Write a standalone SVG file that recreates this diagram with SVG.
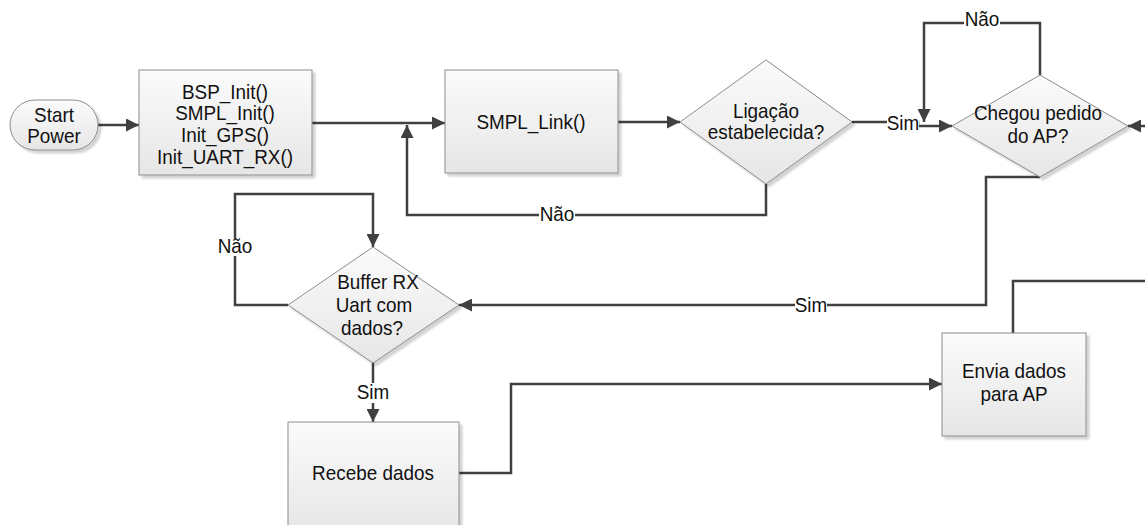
<svg xmlns="http://www.w3.org/2000/svg" width="1145" height="525" viewBox="0 0 1145 525">
  <style>
    .shape { fill: url(#boxFill); stroke: #8c8c8c; stroke-width: 1; filter: url(#shadow); }
    .txt { font-family: "Liberation Sans", Arial, sans-serif; font-size: 21px; fill: #111; text-anchor: middle;
           transform-box: fill-box; transform-origin: center; transform: scaleX(0.9); }
    .wire { fill: none; stroke: #404040; stroke-width: 2.5; }
    .arrow { marker-end: url(#head); }
    .lblbg { fill: #ffffff; }
  </style>
  <defs>
    <linearGradient id="boxFill" x1="0" y1="0" x2="0" y2="1">
      <stop offset="0" stop-color="#fbfbfb"/>
      <stop offset="1" stop-color="#e6e6e6"/>
    </linearGradient>
    <filter id="shadow" x="-10%" y="-10%" width="130%" height="130%">
      <feGaussianBlur in="SourceAlpha" stdDeviation="1.2"/>
      <feOffset dx="3" dy="3" result="off"/>
      <feComponentTransfer><feFuncA type="linear" slope="0.18"/></feComponentTransfer>
      <feMerge><feMergeNode/><feMergeNode in="SourceGraphic"/></feMerge>
    </filter>
    <marker id="head" viewBox="0 0 12 12" refX="12" refY="6" markerWidth="5.2" markerHeight="5.2" orient="auto" markerUnits="strokeWidth">
      <path d="M0,0 L12,6 L0,12 Z" fill="#404040"/>
    </marker>
  </defs>

  <!-- connectors -->
  <g id="connectors">
    <path class="wire arrow" d="M98,125 H139"/>
    <path class="wire arrow" d="M312,123 H445"/>
    <path class="wire arrow" d="M766,184 V215 H407 V125"/>
    <path class="wire arrow" d="M618,122 H680"/>
    <path class="wire arrow" d="M852,122 H918 V126 H952"/>
    <path class="wire arrow" d="M1040,75 V23 H924 V122"/>
    <path class="wire arrow" d="M1145,126 H1128"/>
    <path class="wire arrow" d="M1040,177 H986 V305 H459"/>
    <path class="wire arrow" d="M288,305 H235 V194 H373 V247"/>
    <path class="wire arrow" d="M373,363 V422"/>
    <path class="wire arrow" d="M459,473 H511 V384 H942"/>
    <path class="wire" d="M1013,333 V281 H1145"/>

    <!-- connector labels -->
    <rect class="lblbg" x="539" y="206" width="36" height="18"/>
    <text class="txt" x="557" y="221">Não</text>
    <rect class="lblbg" x="887" y="114" width="32" height="18"/>
    <text class="txt" x="903" y="130">Sim</text>
    <rect class="lblbg" x="964" y="10" width="36" height="18"/>
    <text class="txt" x="982" y="26">Não</text>
    <rect class="lblbg" x="795" y="296" width="32" height="18"/>
    <text class="txt" x="811" y="312">Sim</text>
    <rect class="lblbg" x="217" y="238" width="36" height="18"/>
    <text class="txt" x="235" y="253">Não</text>
    <rect class="lblbg" x="357" y="383" width="32" height="20"/>
    <text class="txt" x="373" y="399">Sim</text>
  </g>

  <g id="start">
    <rect class="shape" x="10" y="100" width="88" height="50" rx="25" ry="25"/>
    <text class="txt" x="54" y="122">Start</text>
    <text class="txt" x="54" y="143">Power</text>
  </g>

  <g id="init">
    <rect class="shape" x="139" y="70" width="173" height="105"/>
    <text class="txt" x="225" y="99">BSP_Init()</text>
    <text class="txt" x="225" y="120">SMPL_Init()</text>
    <text class="txt" x="225" y="142">Init_GPS()</text>
    <text class="txt" x="225" y="164">Init_UART_RX()</text>
  </g>

  <g id="smpl-link">
    <rect class="shape" x="445" y="70" width="173" height="103"/>
    <text class="txt" x="531" y="129">SMPL_Link()</text>
  </g>

  <g id="ligacao">
    <polygon class="shape" points="680,122 766,60 852,122 766,184"/>
    <text class="txt" x="766" y="118">Ligação</text>
    <text class="txt" x="766" y="139">estabelecida?</text>
  </g>

  <g id="pedido-ap">
    <polygon class="shape" points="952,126 1040,75 1128,126 1040,177"/>
    <text class="txt" x="1038" y="120">Chegou pedido</text>
    <text class="txt" x="1038" y="143">do AP?</text>
  </g>

  <g id="buffer-rx">
    <polygon class="shape" points="288,305 373,247 459,305 373,363"/>
    <text class="txt" x="378" y="289">Buffer RX</text>
    <text class="txt" x="374" y="312">Uart com</text>
    <text class="txt" x="372" y="335">dados?</text>
  </g>

  <g id="recebe">
    <rect class="shape" x="288" y="422" width="171" height="112"/>
    <text class="txt" x="373" y="480">Recebe dados</text>
  </g>

  <g id="envia">
    <rect class="shape" x="942" y="333" width="144" height="103"/>
    <text class="txt" x="1014" y="378">Envia dados</text>
    <text class="txt" x="1014" y="401">para AP</text>
  </g>
</svg>
